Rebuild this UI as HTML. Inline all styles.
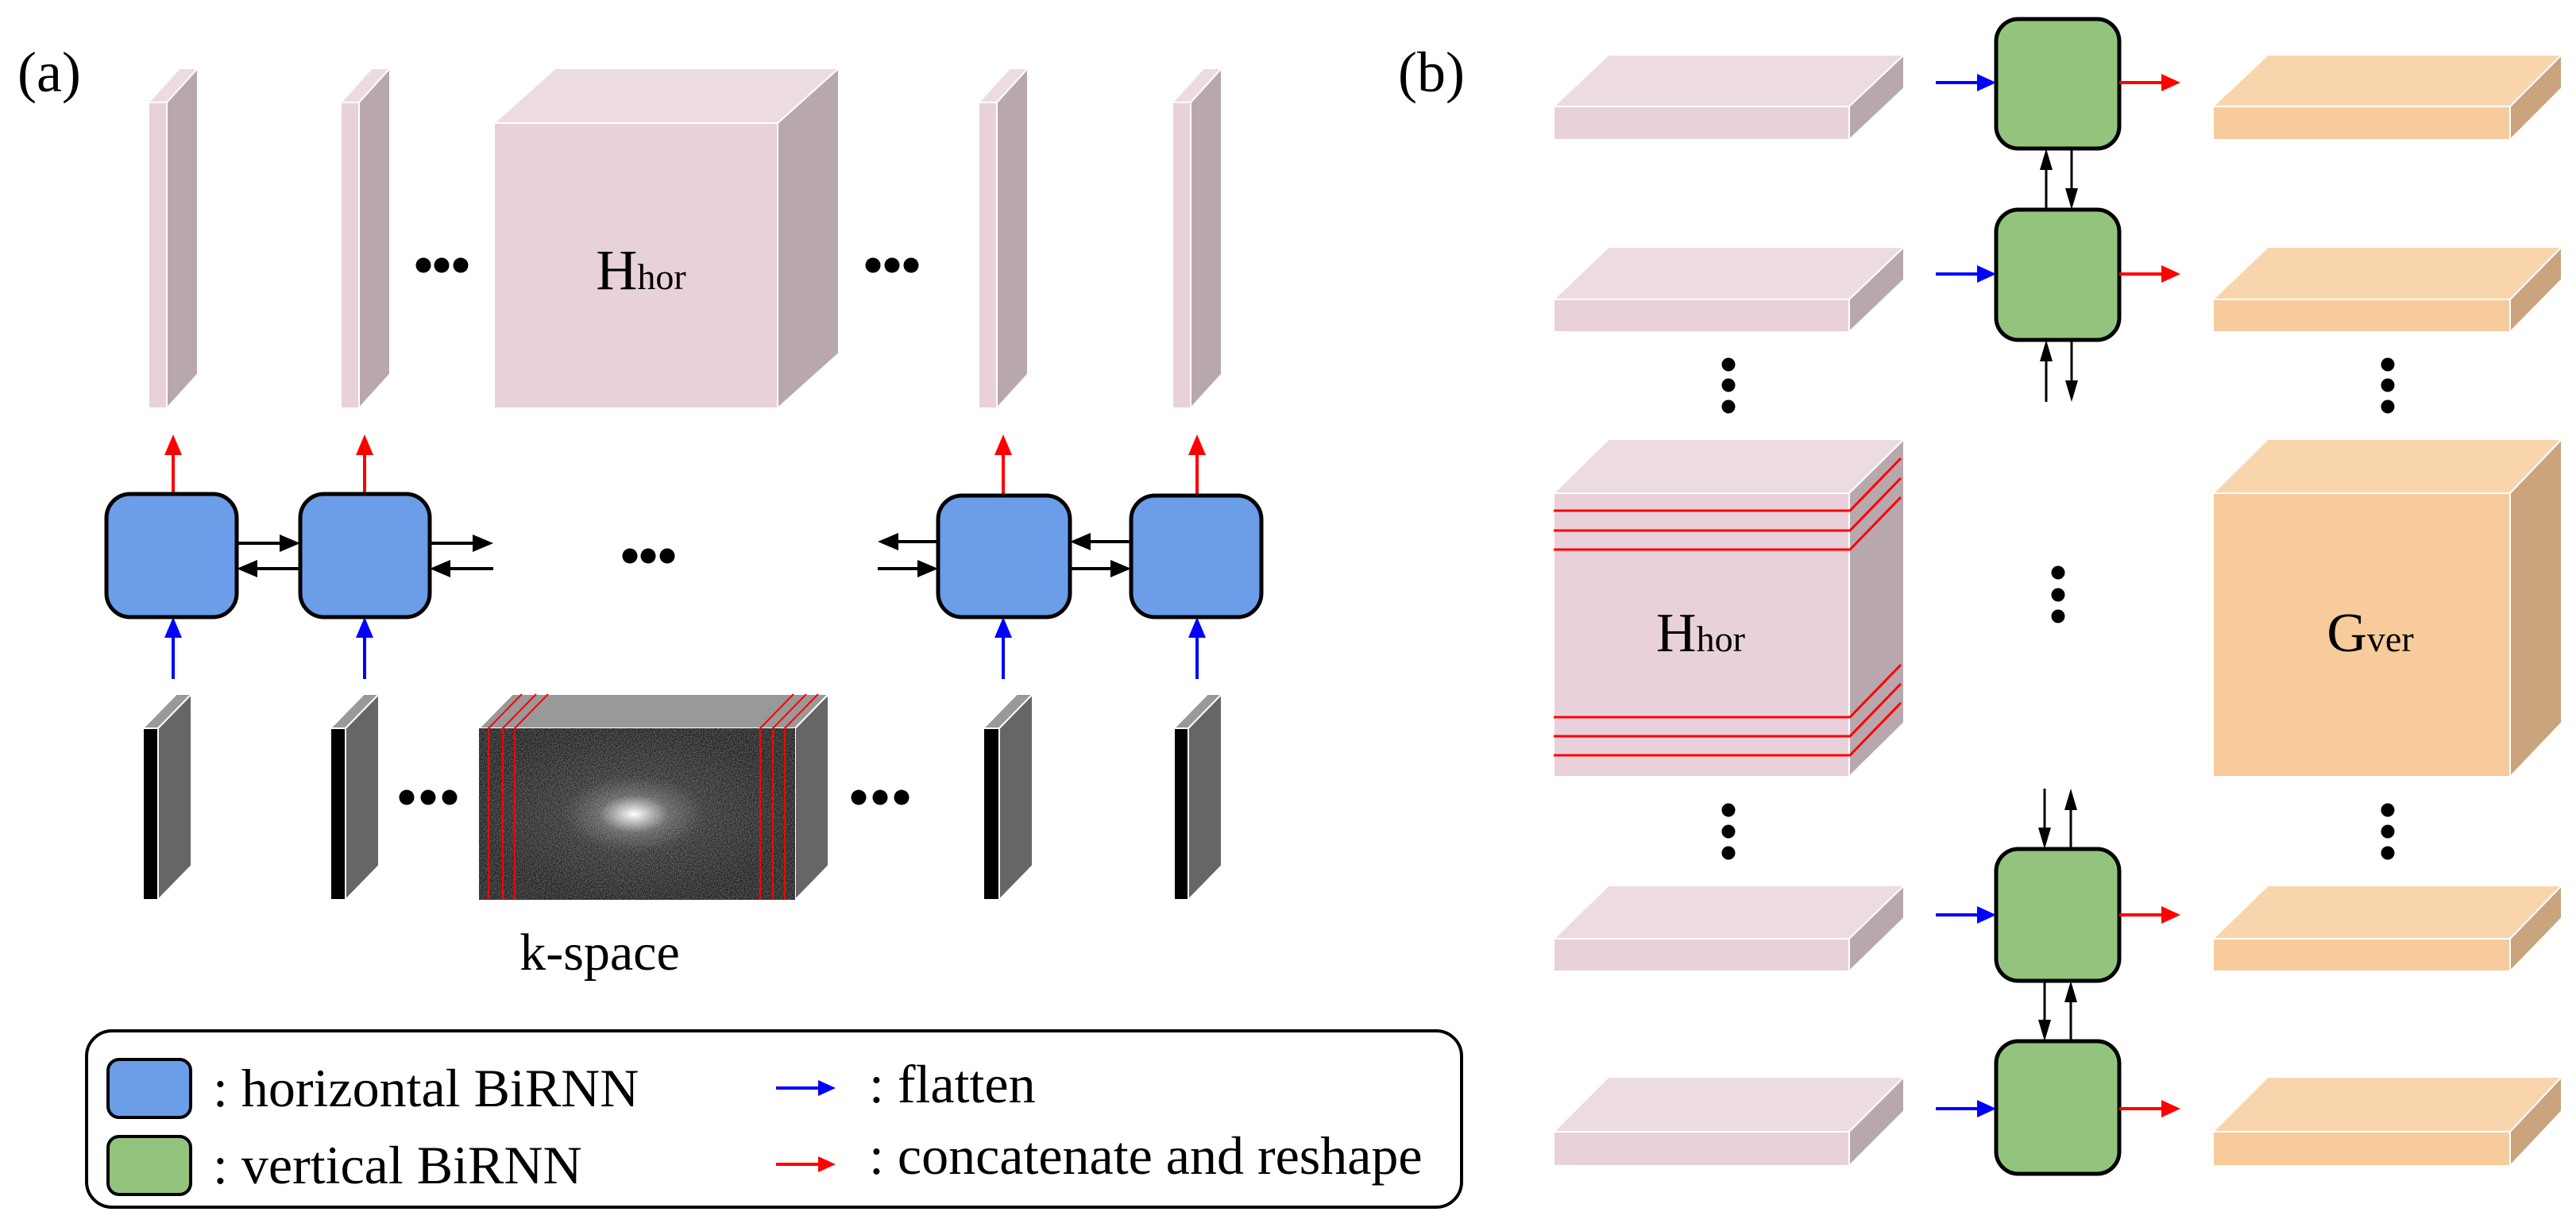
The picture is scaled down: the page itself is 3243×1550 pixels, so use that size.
<!DOCTYPE html>
<html><head><meta charset="utf-8"><style>
html,body{margin:0;padding:0;background:#fff;}
svg{display:block;}
text{font-family:"Liberation Serif",serif;fill:#000;}
</style></head><body>
<svg width="3243" height="1550" viewBox="0 0 3243 1550" xmlns="http://www.w3.org/2000/svg">
<defs>
<radialGradient id="ks" cx="0.49" cy="0.5" r="0.5" fx="0.49" fy="0.5">
<stop offset="0" stop-color="#ffffff"/>
<stop offset="0.08" stop-color="#c0c0c0"/>
<stop offset="0.22" stop-color="#5a5a5a"/>
<stop offset="0.45" stop-color="#2c2c2c"/>
<stop offset="1" stop-color="#1c1c1c"/>
</radialGradient>
<filter id="noise" x="0" y="0" width="1" height="1">
<feTurbulence type="fractalNoise" baseFrequency="0.7" numOctaves="2" seed="3"/>
<feColorMatrix type="matrix" values="0 0 0 0 1  0 0 0 0 1  0 0 0 0 1  1.2 0 0 0 -0.35"/>
</filter>
</defs>

<text x="22" y="115" font-size="72">(a)</text>
<text x="1760" y="115" font-size="72">(b)</text>

<!-- (a) top slabs -->
<g stroke="#fff" stroke-width="2">
<polygon points="187,129 226,86 249,86 210,129" fill="#eddbe2"/>
<polygon points="210,129 249,86 249,471 210,514" fill="#b9a7ae"/>
<rect x="187" y="129" width="23" height="385" fill="#e8d1db"/>
<polygon points="429,129 468,86 491,86 452,129" fill="#eddbe2"/>
<polygon points="452,129 491,86 491,471 452,514" fill="#b9a7ae"/>
<rect x="429" y="129" width="23" height="385" fill="#e8d1db"/>
<polygon points="1232,129 1271,86 1294,86 1255,129" fill="#eddbe2"/>
<polygon points="1255,129 1294,86 1294,471 1255,514" fill="#b9a7ae"/>
<rect x="1232" y="129" width="23" height="385" fill="#e8d1db"/>
<polygon points="1476,129 1515,86 1538,86 1499,129" fill="#eddbe2"/>
<polygon points="1499,129 1538,86 1538,471 1499,514" fill="#b9a7ae"/>
<rect x="1476" y="129" width="23" height="385" fill="#e8d1db"/>
<polygon points="622,155 699,86 1056,86 979,155" fill="#eddbe2"/>
<polygon points="979,155 1056,86 1056,445 979,514" fill="#b9a7ae"/>
<rect x="622" y="155" width="357" height="359" fill="#e8d1db"/>
</g>
<text x="807" y="364" text-anchor="middle" font-size="72">H<tspan font-size="46">hor</tspan></text>
<g fill="#000">
<circle cx="533" cy="334" r="9.5"/><circle cx="556" cy="334" r="9.5"/><circle cx="580" cy="334" r="9.5"/>
<circle cx="1099" cy="334" r="9.5"/><circle cx="1123" cy="334" r="9.5"/><circle cx="1147" cy="334" r="9.5"/>
<circle cx="793" cy="700" r="9.5"/><circle cx="816" cy="700" r="9.5"/><circle cx="840" cy="700" r="9.5"/>
<circle cx="512" cy="1004" r="9.5"/><circle cx="539" cy="1004" r="9.5"/><circle cx="566" cy="1004" r="9.5"/>
<circle cx="1081" cy="1004" r="9.5"/><circle cx="1108" cy="1004" r="9.5"/><circle cx="1135" cy="1004" r="9.5"/>
</g>

<g stroke="#ff0000" stroke-width="4">
<line x1="218" y1="622" x2="218" y2="565"/><line x1="459" y1="622" x2="459" y2="565"/>
<line x1="1263" y1="622" x2="1263" y2="565"/><line x1="1507" y1="622" x2="1507" y2="565"/>
</g>
<g fill="#ff0000">
<polygon points="218,547 207,573 229,573"/><polygon points="459,547 448,573 470,573"/>
<polygon points="1263,547 1252,573 1274,573"/><polygon points="1507,547 1496,573 1518,573"/>
</g>
<g stroke="#0000ff" stroke-width="4">
<line x1="218" y1="855" x2="218" y2="795"/><line x1="459" y1="855" x2="459" y2="795"/>
<line x1="1263" y1="855" x2="1263" y2="795"/><line x1="1507" y1="855" x2="1507" y2="795"/>
</g>
<g fill="#0000ff">
<polygon points="218,777 207,803 229,803"/><polygon points="459,777 448,803 470,803"/>
<polygon points="1263,777 1252,803 1274,803"/><polygon points="1507,777 1496,803 1518,803"/>
</g>

<g fill="#6b9de8" stroke="#000" stroke-width="5">
<rect x="134" y="622" width="164" height="155" rx="30"/>
<rect x="378" y="622" width="163" height="155" rx="30"/>
<rect x="1181" y="624" width="166" height="153" rx="30"/>
<rect x="1424" y="624" width="164" height="153" rx="30"/>
</g>
<g stroke="#000" stroke-width="4">
<line x1="298" y1="684" x2="355" y2="684"/><line x1="378" y1="716" x2="321" y2="716"/>
<line x1="541" y1="684" x2="598" y2="684"/><line x1="621" y1="716" x2="564" y2="716"/>
<line x1="1181" y1="682" x2="1128" y2="682"/><line x1="1105" y1="716" x2="1158" y2="716"/>
<line x1="1424" y1="682" x2="1370" y2="682"/><line x1="1347" y1="716" x2="1401" y2="716"/>
</g>
<g fill="#000">
<polygon points="378,684 352,673 352,695"/><polygon points="298,716 324,705 324,727"/>
<polygon points="621,684 595,673 595,695"/><polygon points="541,716 567,705 567,727"/>
<polygon points="1105,682 1131,671 1131,693"/><polygon points="1181,716 1155,705 1155,727"/>
<polygon points="1347,682 1373,671 1373,693"/><polygon points="1424,716 1398,705 1398,727"/>
</g>

<g stroke="#fff" stroke-width="2">
<polygon points="180,917 222,874 241,874 199,917" fill="#999"/>
<polygon points="199,917 241,874 241,1090 199,1133" fill="#666"/>
<rect x="180" y="917" width="19" height="216" fill="#000"/>
<polygon points="416,917 458,874 477,874 435,917" fill="#999"/>
<polygon points="435,917 477,874 477,1090 435,1133" fill="#666"/>
<rect x="416" y="917" width="19" height="216" fill="#000"/>
<polygon points="1238,917 1280,874 1300,874 1258,917" fill="#999"/>
<polygon points="1258,917 1300,874 1300,1090 1258,1133" fill="#666"/>
<rect x="1238" y="917" width="20" height="216" fill="#000"/>
<polygon points="1478,917 1520,874 1538,874 1496,917" fill="#999"/>
<polygon points="1496,917 1538,874 1538,1090 1496,1133" fill="#666"/>
<rect x="1478" y="917" width="18" height="216" fill="#000"/>
<polygon points="603,917 645,874 1043,874 1001,917" fill="#999"/>
<polygon points="1001,917 1043,874 1043,1090 1001,1133" fill="#666"/>
</g>
<rect x="603" y="917" width="398" height="216" fill="url(#ks)"/>
<rect x="603" y="917" width="398" height="216" filter="url(#noise)" opacity="0.55"/>
<g stroke="#ff0000" stroke-width="2" fill="none">
<polyline points="615,1133 615,917 657,874"/><polyline points="633,1133 633,917 675,874"/><polyline points="648,1133 648,917 690,874"/>
<polyline points="957,1133 957,917 999,874"/><polyline points="973,1133 973,917 1015,874"/><polyline points="988,1133 988,917 1030,874"/>
</g>
<text x="755" y="1221" text-anchor="middle" font-size="66">k-space</text>

<rect x="109" y="1298" width="1731" height="222" rx="32" fill="#fff" stroke="#000" stroke-width="4"/>
<rect x="136" y="1334" width="104" height="73" rx="14" fill="#6b9de8" stroke="#000" stroke-width="4"/>
<rect x="136" y="1431" width="104" height="73" rx="14" fill="#93c47d" stroke="#000" stroke-width="4"/>
<text x="268" y="1393" font-size="68">: horizontal BiRNN</text>
<text x="268" y="1490" font-size="68">: vertical BiRNN</text>
<line x1="977" y1="1370" x2="1034" y2="1370" stroke="#0000ff" stroke-width="4"/>
<polygon points="1052,1370 1030,1360 1030,1380" fill="#0000ff"/>
<line x1="977" y1="1466" x2="1034" y2="1466" stroke="#ff0000" stroke-width="4"/>
<polygon points="1052,1466 1030,1456 1030,1476" fill="#ff0000"/>
<text x="1094" y="1388" font-size="68">: flatten</text>
<text x="1094" y="1478" font-size="68">: concatenate and reshape</text>

<g stroke="#fff" stroke-width="2">
<polygon points="1956,134 2025,69 2397,69 2328,134" fill="#eddbe2"/>
<polygon points="2328,134 2397,69 2397,111 2328,176" fill="#b9a7ae"/>
<rect x="1956" y="134" width="372" height="42" fill="#e8d1db"/>
<polygon points="1956,377 2025,311 2397,311 2328,377" fill="#eddbe2"/>
<polygon points="2328,377 2397,311 2397,352 2328,418" fill="#b9a7ae"/>
<rect x="1956" y="377" width="372" height="41" fill="#e8d1db"/>
<polygon points="1956,1182 2025,1115 2397,1115 2328,1182" fill="#eddbe2"/>
<polygon points="2328,1182 2397,1115 2397,1156 2328,1223" fill="#b9a7ae"/>
<rect x="1956" y="1182" width="372" height="41" fill="#e8d1db"/>
<polygon points="1956,1425 2025,1356 2397,1356 2328,1425" fill="#eddbe2"/>
<polygon points="2328,1425 2397,1356 2397,1399 2328,1468" fill="#b9a7ae"/>
<rect x="1956" y="1425" width="372" height="43" fill="#e8d1db"/>
<polygon points="1956,621 2025,553 2397,553 2328,621" fill="#eddbe2"/>
<polygon points="2328,621 2397,553 2397,910 2328,978" fill="#b9a7ae"/>
<rect x="1956" y="621" width="372" height="357" fill="#e8d1db"/>
<polygon points="2786,134 2855,69 3225,69 3160,134" fill="#f9d5ae"/>
<polygon points="3160,134 3225,69 3225,111 3160,176" fill="#c9a47d"/>
<rect x="2786" y="134" width="374" height="42" fill="#f7cb9c"/>
<polygon points="2786,377 2855,311 3225,311 3160,377" fill="#f9d5ae"/>
<polygon points="3160,377 3225,311 3225,352 3160,418" fill="#c9a47d"/>
<rect x="2786" y="377" width="374" height="41" fill="#f7cb9c"/>
<polygon points="2786,1182 2855,1115 3225,1115 3160,1182" fill="#f9d5ae"/>
<polygon points="3160,1182 3225,1115 3225,1156 3160,1223" fill="#c9a47d"/>
<rect x="2786" y="1182" width="374" height="41" fill="#f7cb9c"/>
<polygon points="2786,1425 2855,1356 3225,1356 3160,1425" fill="#f9d5ae"/>
<polygon points="3160,1425 3225,1356 3225,1399 3160,1468" fill="#c9a47d"/>
<rect x="2786" y="1425" width="374" height="43" fill="#f7cb9c"/>
<polygon points="2786,621 2855,553 3225,553 3160,621" fill="#f9d5ae"/>
<polygon points="3160,621 3225,553 3225,910 3160,978" fill="#c9a47d"/>
<rect x="2786" y="621" width="374" height="357" fill="#f7cb9c"/>
</g>
<g stroke="#ff0000" stroke-width="3" fill="none">
<polyline points="1956,643 2329,643 2393,577"/>
<polyline points="1956,668 2329,668 2393,602"/>
<polyline points="1956,692 2329,692 2393,626"/>
<polyline points="1956,903 2329,903 2393,837"/>
<polyline points="1956,927 2329,927 2393,861"/>
<polyline points="1956,951 2329,951 2393,885"/>
</g>
<text x="2141" y="820" text-anchor="middle" font-size="70">H<tspan font-size="46">hor</tspan></text>
<text x="2984" y="820" text-anchor="middle" font-size="70">G<tspan font-size="46">ver</tspan></text>

<g fill="#000">
<circle cx="2176" cy="459" r="8.5"/><circle cx="2176" cy="485" r="8.5"/><circle cx="2176" cy="512" r="8.5"/>
<circle cx="3006" cy="459" r="8.5"/><circle cx="3006" cy="485" r="8.5"/><circle cx="3006" cy="512" r="8.5"/>
<circle cx="2176" cy="1020" r="8.5"/><circle cx="2176" cy="1047" r="8.5"/><circle cx="2176" cy="1074" r="8.5"/>
<circle cx="3006" cy="1020" r="8.5"/><circle cx="3006" cy="1047" r="8.5"/><circle cx="3006" cy="1074" r="8.5"/>
<circle cx="2591" cy="721" r="8.5"/><circle cx="2591" cy="749" r="8.5"/><circle cx="2591" cy="776" r="8.5"/>
</g>

<g fill="#93c47d" stroke="#000" stroke-width="5">
<rect x="2513" y="24" width="155" height="163" rx="28"/>
<rect x="2513" y="264" width="155" height="164" rx="28"/>
<rect x="2513" y="1069" width="155" height="166" rx="28"/>
<rect x="2513" y="1311" width="155" height="167" rx="28"/>
</g>
<g stroke="#0000ff" stroke-width="4">
<line x1="2437" y1="104" x2="2495" y2="104"/><line x1="2437" y1="345" x2="2495" y2="345"/>
<line x1="2437" y1="1152" x2="2495" y2="1152"/><line x1="2437" y1="1396" x2="2495" y2="1396"/>
</g>
<g fill="#0000ff">
<polygon points="2513,104 2489,93 2489,115"/><polygon points="2513,345 2489,334 2489,356"/>
<polygon points="2513,1152 2489,1141 2489,1163"/><polygon points="2513,1396 2489,1385 2489,1407"/>
</g>
<g stroke="#ff0000" stroke-width="4">
<line x1="2668" y1="104" x2="2725" y2="104"/><line x1="2668" y1="345" x2="2725" y2="345"/>
<line x1="2668" y1="1152" x2="2725" y2="1152"/><line x1="2668" y1="1396" x2="2725" y2="1396"/>
</g>
<g fill="#ff0000">
<polygon points="2745,104 2721,93 2721,115"/><polygon points="2745,345 2721,334 2721,356"/>
<polygon points="2745,1152 2721,1141 2721,1163"/><polygon points="2745,1396 2721,1385 2721,1407"/>
</g>
<g stroke="#000" stroke-width="3">
<line x1="2576" y1="264" x2="2576" y2="210"/><line x1="2608" y1="187" x2="2608" y2="241"/>
<line x1="2576" y1="506" x2="2576" y2="451"/><line x1="2608" y1="428" x2="2608" y2="483"/>
<line x1="2574" y1="993" x2="2574" y2="1046"/><line x1="2607" y1="1069" x2="2607" y2="1016"/>
<line x1="2574" y1="1235" x2="2574" y2="1288"/><line x1="2607" y1="1311" x2="2607" y2="1258"/>
</g>
<g fill="#000">
<polygon points="2576,187 2568,214 2584,214"/><polygon points="2608,264 2600,237 2616,237"/>
<polygon points="2576,428 2568,455 2584,455"/><polygon points="2608,506 2600,479 2616,479"/>
<polygon points="2574,1069 2566,1042 2582,1042"/><polygon points="2607,993 2599,1020 2615,1020"/>
<polygon points="2574,1311 2566,1284 2582,1284"/><polygon points="2607,1235 2599,1262 2615,1262"/>
</g>
</svg>
</body></html>
